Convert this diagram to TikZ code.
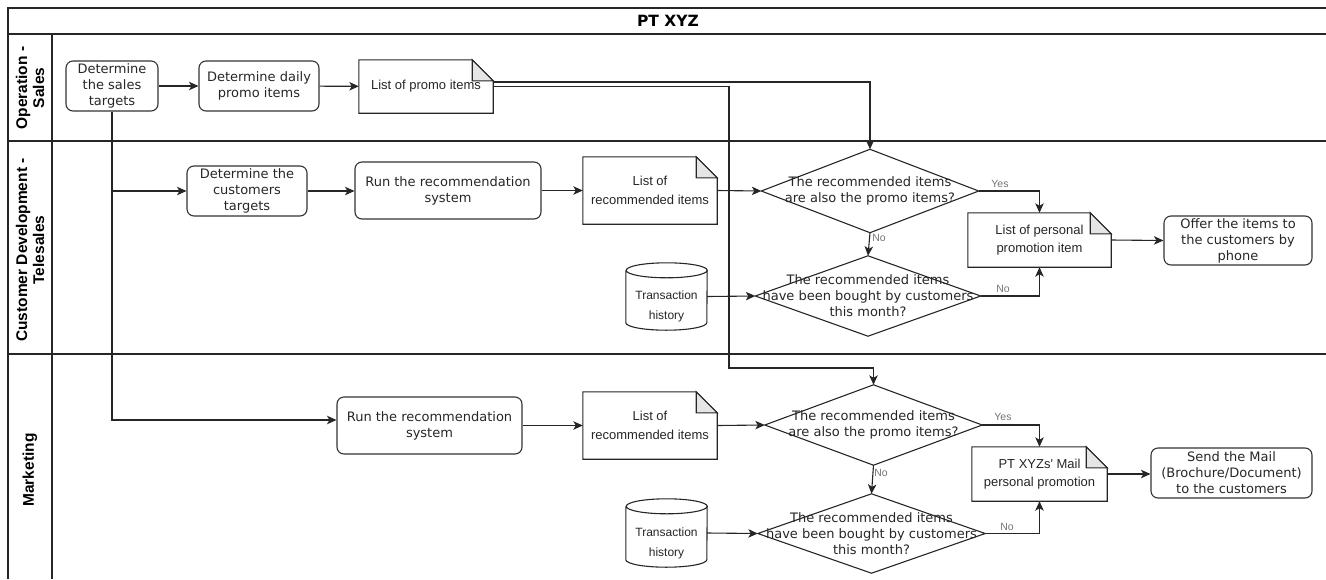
\documentclass[tikz,border=0pt]{standalone}
\usepackage{fontspec}
\setmainfont{DejaVu Sans}
\newfontfamily\notefont{Liberation Sans}
\usetikzlibrary{arrows.meta,calc}
\begin{document}
\begin{tikzpicture}[x=1pt,y=-1pt,
  ln/.style={draw=black!85, line width=1.1pt},
  frame/.style={draw=black!85, line width=1.2pt},
  proc/.style={draw=black!80, line width=1.1pt, rounded corners=7pt, align=center,
    font=\fontsize{13}{16}\selectfont, text=black!85, inner sep=0pt},
  notebox/.style={draw=none, align=center, font=\notefont\fontsize{13}{18.5}\selectfont,
    text=black!85, inner sep=0pt},
  dectext/.style={draw=none, align=center, font=\fontsize{13}{16}\selectfont,
    text=black!85, inner sep=0pt},
  cylbox/.style={draw=none, inner sep=0pt, minimum width=81pt},
  cyltext/.style={align=center, font=\notefont\fontsize{12}{20}\selectfont, text=black!85, inner sep=0pt},
  arr/.style={draw=black!85, line width=1.1pt, -{Stealth[length=9.5pt,width=8.5pt,inset=2.5pt]}},
  lbl/.style={font=\notefont\fontsize{10.5}{12}\selectfont, text=black!55, inner sep=0pt},
  lane/.style={rotate=90, align=center, font=\notefont\bfseries\fontsize{15.5}{17}\selectfont},
]
\useasboundingbox (0,0) rectangle (1326,579);
% frame
\draw[frame] (1326,8) -- (8,8) -- (8,579);
\draw[frame] (8,34) -- (1326,34);
\draw[frame] (8,141) -- (1326,141);
\draw[frame] (8,354) -- (1326,354);
\draw[frame] (52,34) -- (52,579);
\node[font=\bfseries\fontsize{15.5}{18}\selectfont] (title) at (668,21) {PT XYZ};
\node[lane] (lane1) at (30,88) {Operation -\\Sales};
\node[lane] (lane2) at (30,250) {Customer Development -\\Telesales};
\node[lane] (lane3) at (30,470) {Marketing};

% Operation - Sales
\node[proc, minimum width=92pt, minimum height=50pt] (st) at (112,86) {Determine\\the sales\\targets};
\node[proc, minimum width=120pt, minimum height=50pt] (dp) at (259,86) {Determine daily\\promo items};
\node[notebox, minimum width=134pt, minimum height=53pt] (promo) at (426,86.5) {List of promo items};

% Customer Development - Telesales
\node[proc, minimum width=120pt, minimum height=50pt] (ct) at (247,191) {Determine the\\customers\\targets};
\node[proc, minimum width=186pt, minimum height=57pt] (r1) at (448,190.5) {Run the recommendation\\system};
\node[notebox, minimum width=134pt, minimum height=67pt] (rl1) at (650,190.5) {List of\\recommended items};
\node[dectext, minimum width=217pt, minimum height=83pt] (d1) at (870,191) {The recommended items\\are also the promo items?};
\node[dectext, minimum width=225pt, minimum height=80pt] (d2) at (868,296) {The recommended items\\have been bought by customers\\this month?};
\node[cylbox, minimum height=67pt] (th1) at (666.5,296.5) {};
\node[cyltext] (th1t) at (666.5,306.5) {Transaction\\history};
\node[notebox, minimum width=143pt, minimum height=54pt] (pp) at (1039.5,240) {List of personal\\promotion item};
\node[proc, minimum width=148pt, minimum height=49pt] (offer) at (1238,240.5) {Offer the items to\\the customers by\\phone};

% Marketing
\node[proc, minimum width=185pt, minimum height=57pt] (r2) at (429.5,425.5) {Run the recommendation\\system};
\node[notebox, minimum width=134pt, minimum height=67pt] (rl2) at (650,425.5) {List of\\recommended items};
\node[dectext, minimum width=217pt, minimum height=80pt] (d3) at (873.5,425) {The recommended items\\are also the promo items?};
\node[dectext, minimum width=227pt, minimum height=79pt] (d4) at (871.5,533.5) {The recommended items\\have been bought by customers\\this month?};
\node[cylbox, minimum height=68pt] (th2) at (666.5,533) {};
\node[cyltext] (th2t) at (666.5,543) {Transaction\\history};
\node[notebox, minimum width=135pt, minimum height=54pt] (mail) at (1039.5,474) {PT XYZs' Mail\\personal promotion};
\node[proc, minimum width=161pt, minimum height=50pt] (send) at (1231.5,473) {Send the Mail\\(Brochure/Document)\\to the customers};

% shapes
\foreach \n in {promo,rl1,pp,rl2,mail}{
  \draw[ln] (\n.south west) -- (\n.south east) -- ([yshift=-21pt]\n.north east)
     -- ([xshift=-21pt]\n.north east) -- (\n.north west) -- cycle;
  \draw[ln, fill=black!10] ([xshift=-21pt]\n.north east) -- ([xshift=-21pt,yshift=-21pt]\n.north east)
     -- ([yshift=-21pt]\n.north east) -- cycle;
}
\foreach \n in {d1,d2,d3,d4}{
  \draw[ln] (\n.north) -- (\n.east) -- (\n.south) -- (\n.west) -- cycle;
}
\foreach \n in {th1,th2}{
  \draw[ln] ([yshift=-7.5pt]\n.north west) -- ([yshift=7.5pt]\n.south west)
    arc[start angle=180,end angle=360,x radius=40.5pt,y radius=7.5pt]
    -- ([yshift=-7.5pt]\n.north east)
    arc[start angle=0,end angle=180,x radius=40.5pt,y radius=7.5pt]
    arc[start angle=180,end angle=360,x radius=40.5pt,y radius=7.5pt];
}

% connectors
\coordinate (k) at (729,368);
\draw[arr] (st) -- (dp);
\draw[arr] (dp) -- (promo);
\draw[arr] ([yshift=4.5pt]promo.east) -| (d1.north);
\draw[arr] (promo.east) -| (k) -| (d3.north);
\draw[arr] (st.south) |- (ct.west);
\draw[arr] (st.south) |- ([yshift=5.5pt]r2.west);

\draw[arr] (ct.east) -- (ct.east -| r1.west);
\draw[arr] (r1.east) -- (r1.east -| rl1.west);
\draw[arr] (rl1.east) -- (d1.west);
\draw[arr] (d1.south) -- (d2.north);
\draw[arr] (th1.east) -- (d2.west);
\draw[arr] (d1.east) -| (pp.north);
\draw[arr] (d2.east) -| (pp.south);
\draw[arr] (pp.east) -- (offer.west);

\draw[arr] (r2.east) -- (r2.east -| rl2.west);
\draw[arr] (rl2.east) -- (d3.west);
\draw[arr] (d3.south) -- (d4.north);
\draw[arr] (th2.east) -- (d4.west);
\draw[arr] (d3.east) -| (mail.north);
\draw[arr] (d4.east) -| (mail.south);
\draw[arr] (mail.east) -- (mail.east -| send.west);

% labels
\node[lbl] (l1) at (1000,184) {Yes};
\node[lbl] (l2) at (879,238) {No};
\node[lbl] (l3) at (1003,289) {No};
\node[lbl] (l4) at (1003,417) {Yes};
\node[lbl] (l5) at (881,473) {No};
\node[lbl] (l6) at (1007,527) {No};
\end{tikzpicture}
\end{document}
